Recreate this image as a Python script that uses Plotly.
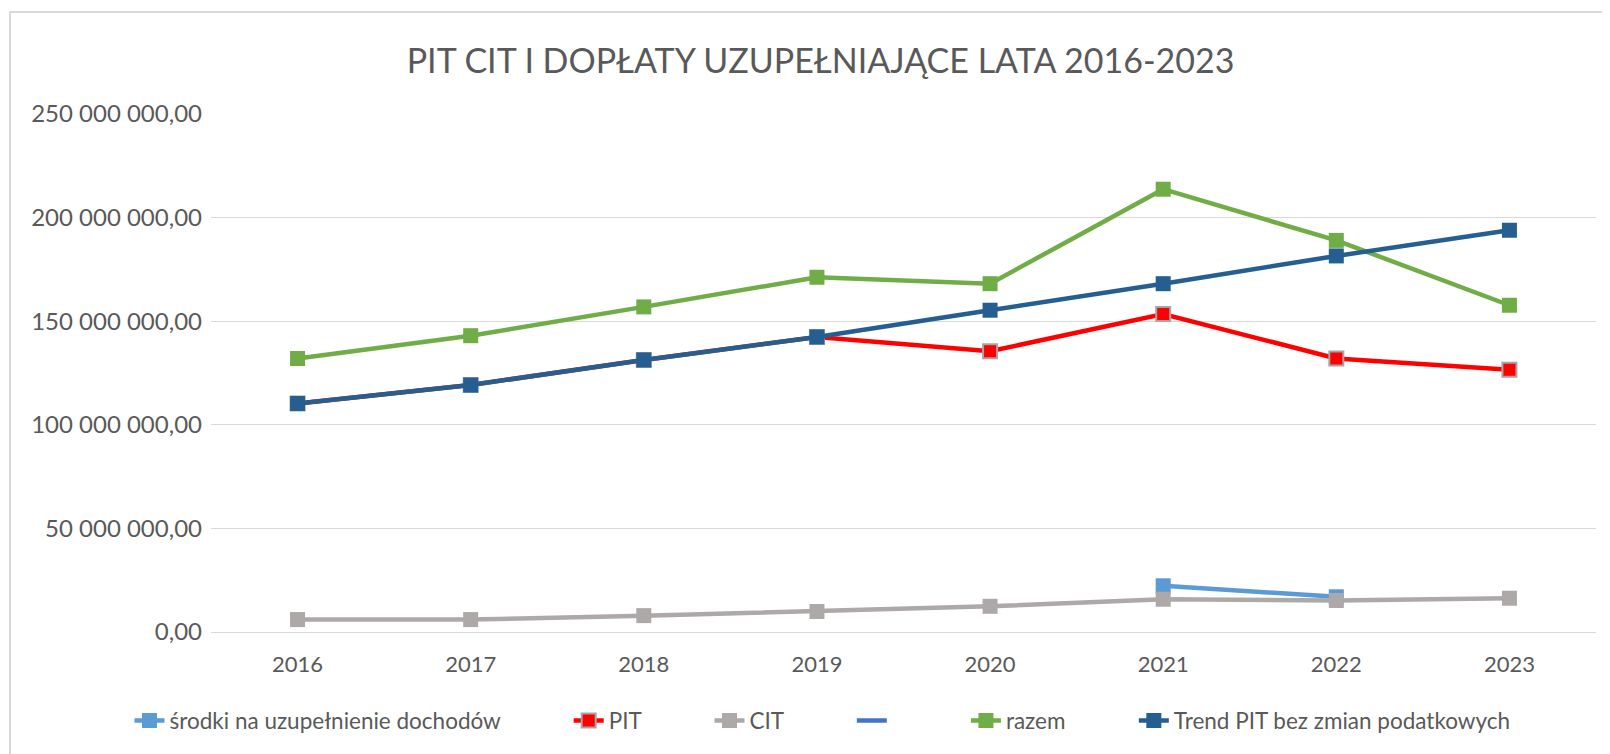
import plotly.graph_objects as go

years = ["2016", "2017", "2018", "2019", "2020", "2021", "2022", "2023"]
srodki = [None, None, None, None, None, 22.3e6, 17.0e6, None]
pit = [110.3e6, 119.2e6, 131.3e6, 142.4e6, 135.5e6, 153.5e6, 132.0e6, 126.6e6]
cit = [6.0e6, 6.0e6, 7.9e6, 9.9e6, 12.4e6, 15.8e6, 15.2e6, 16.3e6]
hidden = [None] * 8
razem = [132.0e6, 143.0e6, 156.9e6, 171.2e6, 168.1e6, 213.7e6, 189.0e6, 157.7e6]
trend = [110.3e6, 119.2e6, 131.3e6, 142.4e6, 155.3e6, 168.1e6, 181.5e6, 193.9e6]

tick_vals = [0, 50e6, 100e6, 150e6, 200e6, 250e6]
tick_text = ["0,00", "50 000 000,00", "100 000 000,00", "150 000 000,00",
             "200 000 000,00", "250 000 000,00"]

FONT = "Lato, 'Open Sans', sans-serif"
TXT = "#595959"
PAD = "\u00a0" * 11

W, H = 1610, 754
L, R, T, B = 203, 22, 106, 130
PW, PH = W - L - R, H - T - B

fig = go.Figure()
msize = 15
lw = 4.5
fig.add_trace(go.Scatter(x=years, y=srodki, name="środki na uzupełnienie dochodów" + PAD,
                         mode="lines+markers", line=dict(color="#5B9BD5", width=lw),
                         marker=dict(symbol="square", size=msize, color="#5B9BD5")))
fig.add_trace(go.Scatter(x=years, y=pit, name="PIT" + PAD, mode="lines+markers",
                         line=dict(color="#FF0000", width=lw),
                         marker=dict(symbol="square", size=msize - 1, color="#FF0000",
                                     line=dict(color="#A5A5A5", width=2))))
fig.add_trace(go.Scatter(x=years, y=cit, name="CIT" + PAD, mode="lines+markers",
                         line=dict(color="#ADA9A8", width=lw),
                         marker=dict(symbol="square", size=msize, color="#ADA9A8")))
fig.add_trace(go.Scatter(x=years, y=hidden, name=" " + PAD, mode="lines",
                         line=dict(color="#4472C4", width=lw)))
fig.add_trace(go.Scatter(x=years, y=razem, name="razem" + PAD, mode="lines+markers",
                         line=dict(color="#70AD47", width=lw),
                         marker=dict(symbol="square", size=msize, color="#70AD47")))
fig.add_trace(go.Scatter(x=years, y=trend, name="Trend PIT bez zmian podatkowych",
                         mode="lines+markers", line=dict(color="#255E91", width=lw),
                         marker=dict(symbol="square", size=msize, color="#255E91")))

fig.update_layout(
    width=W, height=H,
    margin=dict(l=L, r=R, t=T, b=B),
    paper_bgcolor="white", plot_bgcolor="white",
    font=dict(family=FONT, color=TXT, size=22),
    title=dict(text="PIT CIT I DOPŁATY UZUPEŁNIAJĄCE LATA 2016-2023",
               x=0.5047, xanchor="center", y=0.929, yanchor="middle",
               font=dict(size=34, color=TXT, family=FONT)),
    showlegend=True,
    legend=dict(orientation="h", x=0.4415, xanchor="center", y=-0.13, yanchor="top",
                font=dict(size=22.5, color=TXT), tracegroupgap=0,
                traceorder="normal"),
    xaxis=dict(type="category", range=[-0.5, 7.5], showgrid=False, showline=False,
               ticks="", tickfont=dict(size=22, color=TXT), ticklabelstandoff=17),
    yaxis=dict(range=[0, 250e6], tickvals=tick_vals, ticktext=tick_text,
               showgrid=True, gridcolor="#D9D9D9", gridwidth=1, zeroline=True,
               zerolinecolor="#D9D9D9", zerolinewidth=1, showline=False,
               tickfont=dict(size=24, color=TXT), ticklabelstandoff=8),
    shapes=[dict(type="rect", xref="paper", yref="paper",
                 x0=(2 - L) / PW, x1=(W + 20 - L) / PW,
                 y0=(PH - (H + 20 - T)) / PH, y1=(PH - (4 - T)) / PH,
                 line=dict(color="#D9D9D9", width=2), fillcolor="rgba(0,0,0,0)",
                 layer="below")],
)

fig.write_html("out.html")
